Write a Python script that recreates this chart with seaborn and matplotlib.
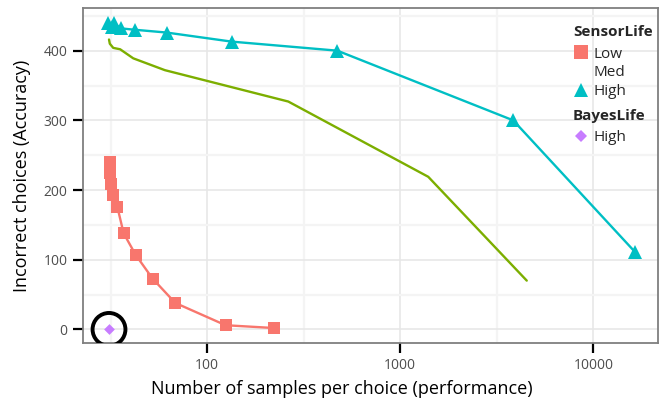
import numpy as np
import pandas as pd
import seaborn as sns
import matplotlib.pyplot as plt
from matplotlib.lines import Line2D

# SensorLife = Low (squares)
low_x = [31.3, 31.3, 31.4, 31.8, 32.4, 34.3, 36.9, 42.6, 52.1, 68.3, 124.5, 220.8]
low_y = [240, 233, 224, 208, 193, 175, 138, 107, 73, 38, 6, 2]

# SensorLife = Med (line only)
med_x = [31.0, 31.3, 32.6, 35.4, 41.4, 60.4, 263, 1396, 4520]
med_y = [416, 410, 404, 402, 389, 372, 327, 219, 70]

# SensorLife = High (triangles)
high_x = [30.7, 32.0, 33.0, 35.7, 42.2, 61.6, 133.7, 472, 3846, 16450]
high_y = [439, 434, 439, 432, 430, 426, 413, 400, 300, 111]

# BayesLife = High
bayes_x = [31.0]
bayes_y = [0]

colors = {'Low': '#F8766D', 'Med': '#7CAE00', 'High': '#00BFC4', 'Bayes': '#C77CFF'}

sns.set_theme(style='white')
plt.rcParams['font.family'] = ['Open Sans', 'DejaVu Sans']

fig = plt.figure(figsize=(6.63, 4.08), dpi=100)
ax = fig.add_axes([0.125, 0.159, 0.8675, 0.821])

low = pd.DataFrame({'x': low_x, 'y': low_y})
med = pd.DataFrame({'x': med_x, 'y': med_y})
high = pd.DataFrame({'x': high_x, 'y': high_y})
bayes = pd.DataFrame({'x': bayes_x, 'y': bayes_y})

sns.lineplot(data=med, x='x', y='y', color=colors['Med'], lw=1.7,
             sort=False, estimator=None, ax=ax, zorder=3)
sns.lineplot(data=low, x='x', y='y', color=colors['Low'], lw=1.7,
             marker='s', markersize=8.5, markeredgewidth=0,
             sort=False, estimator=None, ax=ax, zorder=3)
sns.lineplot(data=high, x='x', y='y', color=colors['High'], lw=1.7,
             marker='^', markersize=10, markeredgewidth=0,
             sort=False, estimator=None, ax=ax, zorder=3)
sns.scatterplot(data=bayes, x='x', y='y', color=colors['Bayes'], marker='D',
                s=30, linewidth=0, ax=ax, zorder=4)
# circle highlighting the BayesLife point
ax.scatter(bayes_x, bayes_y, s=560, facecolors='none', edgecolors='black',
           linewidths=2.8, zorder=5)

ax.set_xscale('log')
ax.set_xlim(22.7, 21630)
ax.set_ylim(-19.7, 461)
ax.set_xticks([100, 1000, 10000])
ax.set_xticklabels(['100', '1000', '10000'])
ax.set_xticks([10 ** 1.5, 10 ** 2.5, 10 ** 3.5], minor=True)
ax.set_xticklabels([], minor=True)
ax.set_yticks([0, 100, 200, 300, 400])
ax.set_yticks([50, 150, 250, 350, 450], minor=True)

ax.grid(True, which='major', color='#e6e6e6', lw=1.1, zorder=0)
ax.grid(True, which='minor', color='#f4f4f4', lw=1.6, zorder=0)
ax.set_axisbelow(True)

for s in ax.spines.values():
    s.set_color('#7f7f7f')
    s.set_linewidth(1.3)

ax.tick_params(which='major', length=7, width=1.6, color='black',
               labelsize=10, labelcolor='#4d4d4d', pad=4, left=True, bottom=True)
ax.tick_params(which='minor', length=0)

ax.set_xlabel('Number of samples per choice (performance)', fontsize=13, color='black')
ax.xaxis.set_label_coords((341.5 - 83) / 575, -0.11)
ax.set_ylabel('Incorrect choices (Accuracy)', fontsize=13, color='black')
ax.yaxis.set_label_coords(-0.09, 0.5)

# legends
leg_kw = dict(loc='upper left', frameon=False, fontsize=11,
              title_fontproperties={'weight': 'bold', 'size': 11},
              handletextpad=0.25, handlelength=1.1, labelspacing=0.25,
              borderaxespad=0, borderpad=0, alignment='left')
sensor_handles = [
    Line2D([], [], marker='s', color=colors['Low'], ls='none', markersize=9.5, markeredgewidth=0),
    Line2D([], [], marker='', ls='none'),
    Line2D([], [], marker='^', color=colors['High'], ls='none', markersize=10.5, markeredgewidth=0),
]
leg1 = ax.legend(sensor_handles, ['Low', 'Med', 'High'], title='SensorLife',
                 bbox_to_anchor=(0.852, 0.95), **leg_kw)
leg1._legend_box.sep = 5.5
ax.add_artist(leg1)
bayes_handles = [Line2D([], [], marker='D', color=colors['Bayes'], ls='none',
                        markersize=6, markeredgewidth=0)]
leg2 = ax.legend(bayes_handles, ['High'], title='BayesLife',
                 bbox_to_anchor=(0.852, 0.70), **leg_kw)
leg2._legend_box.sep = 5.5

fig.savefig('out.png', dpi=100)
